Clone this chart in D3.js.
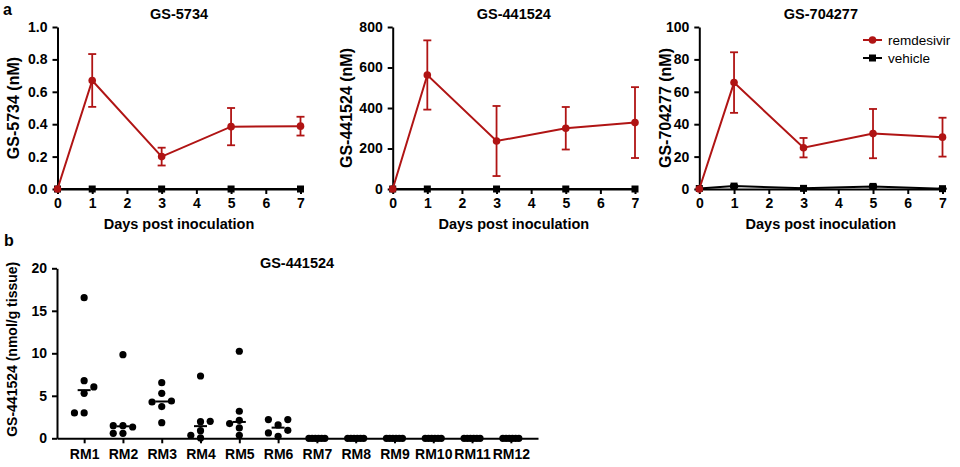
<!DOCTYPE html>
<html>
<head>
<meta charset="utf-8">
<script src="https://cdn.jsdelivr.net/npm/d3@7"></script>
<style>
  body { margin: 0; background: #fff; }
  text { font-family: "Liberation Sans", Arial, sans-serif; }
</style>
</head>
<body>
<div id="chart"></div>
<script>
// ---- data ----
var days = [0, 1, 3, 5, 7];
var dayTicks = [0, 1, 2, 3, 4, 5, 6, 7];

// GS-5734 (nM)
var gs5734Rem = [0, 0.67, 0.20, 0.385, 0.388];
var gs5734RemErr = [0, 0.163, 0.055, 0.115, 0.058];
var gs5734Veh = [0, 0, 0, 0, 0];
var gs5734VehErr = [0, 0, 0, 0, 0];
var gs5734Ticks = [0, 0.2, 0.4, 0.6, 0.8, 1.0];

// GS-441524 (nM)
var gs441524Rem = [0, 563, 237, 300, 328];
var gs441524RemErr = [0, 171, 173, 105, 175];
var gs441524Veh = [0, 0, 0, 0, 0];
var gs441524VehErr = [0, 0, 0, 0, 0];
var gs441524Ticks = [0, 200, 400, 600, 800];

// GS-704277 (nM)
var gs704277Rem = [0, 65.7, 25.5, 34.2, 32];
var gs704277RemErr = [0, 18.7, 6, 15.2, 12];
var gs704277Veh = [0.3, 1.8, 0.4, 1.6, 0.2];
var gs704277VehErr = [0, 0.6, 0.3, 0.8, 0.2];
var gs704277Ticks = [0, 20, 40, 60, 80, 100];

// panel b, GS-441524 in tissue (nmol/g)
var animals = ["RM1", "RM2", "RM3", "RM4", "RM5", "RM6", "RM7", "RM8", "RM9", "RM10", "RM11", "RM12"];
var tissueTicks = [0, 5, 10, 15, 20];
var tissueValues = [
  [16.55, 6.78, 6.04, 5.29, 2.98, 2.98],
  [9.84, 1.49, 1.49, 1.33, 0.59, 0.59],
  [6.55, 5.29, 4.39, 4.27, 3.73, 1.84],
  [7.33, 2.0, 1.96, 0.9, 0.35, 0.04],
  [10.24, 3.18, 2.12, 1.73, 1.22, 0.35],
  [2.2, 2.2, 1.57, 0.94, 0.63, 0.24],
  [0, 0, 0, 0, 0, 0],
  [0, 0, 0, 0, 0, 0],
  [0, 0, 0, 0, 0, 0],
  [0, 0, 0, 0, 0, 0],
  [0, 0, 0, 0, 0, 0],
  [0, 0, 0, 0, 0, 0]
];

var red = "#b01414";

var svg = d3.select("#chart")
  .append("svg")
    .attr("width", 960)
    .attr("height", 467);

function styleAxis(sel) {
  sel.selectAll(".domain").attr("stroke", "#000").attr("stroke-width", 2);
  sel.selectAll(".tick line").attr("stroke", "#000").attr("stroke-width", 2);
  sel.selectAll(".tick text")
    .attr("fill", "#000")
    .attr("font-size", "14px")
    .attr("font-weight", "bold")
    .attr("font-family", "Liberation Sans, Arial, sans-serif");
}

// one time-course panel
function timePanel(p) {
  var top = 27, bottom = 189;
  var yMax = p.ticks[p.ticks.length - 1];
  var x = d3.scaleLinear().domain([0, 7]).range([p.left, p.right]);
  var y = d3.scaleLinear().domain([0, yMax]).range([bottom, top]);
  var g = svg.append("g");

  g.append("g")
    .attr("transform", "translate(0," + bottom + ")")
    .call(d3.axisBottom(x).tickValues(dayTicks).tickFormat(d3.format("d"))
      .tickSize(5).tickSizeOuter(0).tickPadding(4))
    .call(styleAxis);

  g.append("g")
    .attr("transform", "translate(" + p.left + ",0)")
    .call(d3.axisLeft(y).tickValues(p.ticks)
      .tickFormat(p.fmt).tickSize(5).tickSizeOuter(0).tickPadding(5))
    .call(styleAxis);

  g.append("text")
    .attr("x", (p.left + p.right) / 2)
    .attr("y", 19)
    .attr("text-anchor", "middle")
    .attr("font-size", "14.5px")
    .attr("font-weight", "bold")
    .text(p.title);

  g.append("text")
    .attr("x", (p.left + p.right) / 2)
    .attr("y", 229)
    .attr("text-anchor", "middle")
    .attr("font-size", "14.5px")
    .attr("font-weight", "bold")
    .text("Days post inoculation");

  g.append("text")
    .attr("transform", "translate(" + p.labelX + "," + ((top + bottom) / 2) + ")rotate(-90)")
    .attr("dy", "0.35em")
    .attr("text-anchor", "middle")
    .attr("font-size", "16px")
    .attr("font-weight", "bold")
    .text(p.yLabel);

  var line = d3.line()
    .x(function(d) { return x(d.day); })
    .y(function(d) { return y(d.v); });

  var series = [
    {vals: p.veh, errs: p.vehErr, color: "#000", shape: "square"},
    {vals: p.rem, errs: p.remErr, color: red, shape: "circle"}
  ];

  series.forEach(function(s) {
    var pts = days.map(function(d, i) { return {day: d, v: s.vals[i], e: s.errs[i]}; });
    var eb = g.append("g").attr("stroke", s.color).attr("stroke-width", 1.8);
    pts.filter(function(d) { return d.e > 0; }).forEach(function(d) {
      eb.append("line")
        .attr("x1", x(d.day)).attr("x2", x(d.day))
        .attr("y1", y(d.v - d.e)).attr("y2", y(d.v + d.e));
      [d.v - d.e, d.v + d.e].forEach(function(c) {
        eb.append("line")
          .attr("x1", x(d.day) - 4).attr("x2", x(d.day) + 4)
          .attr("y1", y(c)).attr("y2", y(c));
      });
    });
    g.append("path")
      .datum(pts)
      .attr("fill", "none")
      .attr("stroke", s.color)
      .attr("stroke-width", 2)
      .attr("d", line);
    if (s.shape === "circle") {
      g.selectAll(null).data(pts).enter().append("circle")
        .attr("cx", function(d) { return x(d.day); })
        .attr("cy", function(d) { return y(d.v); })
        .attr("r", 3.8)
        .attr("fill", s.color);
    } else {
      g.selectAll(null).data(pts).enter().append("rect")
        .attr("x", function(d) { return x(d.day) - 3.5; })
        .attr("y", function(d) { return y(d.v) - 3.5; })
        .attr("width", 7).attr("height", 7)
        .attr("fill", s.color);
    }
  });
  return g;
}

timePanel({left: 57.5, right: 300.5, ticks: gs5734Ticks, fmt: d3.format(".1f"),
  title: "GS-5734", yLabel: "GS-5734 (nM)", labelX: 13,
  rem: gs5734Rem, remErr: gs5734RemErr, veh: gs5734Veh, vehErr: gs5734VehErr});

timePanel({left: 392.7, right: 635, ticks: gs441524Ticks, fmt: d3.format("d"),
  title: "GS-441524", yLabel: "GS-441524 (nM)", labelX: 346,
  rem: gs441524Rem, remErr: gs441524RemErr, veh: gs441524Veh, vehErr: gs441524VehErr});

var pc = timePanel({left: 699.3, right: 942.5, ticks: gs704277Ticks, fmt: d3.format("d"),
  title: "GS-704277", yLabel: "GS-704277 (nM)", labelX: 665,
  rem: gs704277Rem, remErr: gs704277RemErr, veh: gs704277Veh, vehErr: gs704277VehErr});

// legend
var legend = [{name: "remdesivir", color: red, shape: "circle"}, {name: "vehicle", color: "#000", shape: "square"}];
legend.forEach(function(l, i) {
  var ly = 40 + i * 18;
  pc.append("line").attr("x1", 863).attr("x2", 882).attr("y1", ly).attr("y2", ly)
    .attr("stroke", l.color).attr("stroke-width", 2);
  if (l.shape === "circle") {
    pc.append("circle").attr("cx", 872.5).attr("cy", ly).attr("r", 3.8).attr("fill", l.color);
  } else {
    pc.append("rect").attr("x", 869).attr("y", ly - 3.5).attr("width", 7).attr("height", 7).attr("fill", l.color);
  }
  pc.append("text").attr("x", 888).attr("y", ly + 5)
    .attr("font-size", "13.5px").attr("fill", "#000").text(l.name);
});

// panel letters
svg.append("text").attr("x", 3).attr("y", 15).attr("font-size", "16px").attr("font-weight", "bold").text("a");
svg.append("text").attr("x", 4).attr("y", 246).attr("font-size", "16px").attr("font-weight", "bold").text("b");

// ---- panel b ----
var bx = d3.scalePoint().domain(animals).range([57, 538]).padding(0.7);
var by = d3.scaleLinear().domain([0, 20]).range([438.3, 268.3]);
var gb = svg.append("g");

gb.append("g")
  .attr("transform", "translate(0," + by(0) + ")")
  .call(d3.axisBottom(bx).tickSize(5).tickSizeOuter(0).tickPadding(6))
  .call(styleAxis);

gb.append("g")
  .attr("transform", "translate(57,0)")
  .call(d3.axisLeft(by).tickValues(tissueTicks).tickSize(5).tickSizeOuter(0).tickPadding(5))
  .call(styleAxis);

gb.append("text")
  .attr("x", 297)
  .attr("y", 268)
  .attr("text-anchor", "middle")
  .attr("font-size", "14.5px")
  .attr("font-weight", "bold")
  .text("GS-441524");

gb.append("text")
  .attr("transform", "translate(12," + ((by(0) + by(20)) / 2 - 4) + ")rotate(-90)")
  .attr("dy", "0.35em")
  .attr("text-anchor", "middle")
  .attr("font-size", "14px")
  .attr("font-weight", "bold")
  .text("GS-441524 (nmol/g tissue)");

// simple scatter layout: columns left/right of centre, squeeze rows that do not fit
var colStep = 9.7, minDist = 7, maxHalf = 8;
function swarm(vals) {
  var pts = vals.map(function(v) { return {v: v, py: by(v)}; })
    .sort(function(a, b) { return b.py - a.py; });
  var placed = [], overflow = [];
  pts.forEach(function(p) {
    var nl = placed.filter(function(q) { return q.dx < 0; }).length;
    var nr = placed.filter(function(q) { return q.dx > 0; }).length;
    var cands = nl <= nr ? [0, -1, 1] : [0, 1, -1];
    var ok = null;
    for (var i = 0; i < cands.length; i++) {
      var dx = cands[i] * colStep;
      var free = placed.every(function(q) { return Math.hypot(q.dx - dx, q.py - p.py) >= minDist; });
      if (free) { ok = dx; break; }
    }
    if (ok === null) overflow.push(p); else { p.dx = ok; placed.push(p); }
  });
  overflow.forEach(function(p) {
    var row = pts.filter(function(q) { return Math.abs(q.py - p.py) < 1; });
    row.forEach(function(q, i) { q.dx = -maxHalf + i * (2 * maxHalf / (row.length - 1)); });
  });
  return pts;
}

animals.forEach(function(a, i) {
  var cx = bx(a);
  var pts = swarm(tissueValues[i]);
  gb.selectAll(null).data(pts).enter().append("circle")
    .attr("cx", function(d) { return cx + d.dx; })
    .attr("cy", function(d) { return d.py; })
    .attr("r", 3.6)
    .attr("fill", "#000");
  var med = d3.median(tissueValues[i]);
  gb.append("line")
    .attr("x1", cx - 6.5).attr("x2", cx + 6.5)
    .attr("y1", by(med)).attr("y2", by(med))
    .attr("stroke", "#000").attr("stroke-width", 2);
});
</script>
</body>
</html>
